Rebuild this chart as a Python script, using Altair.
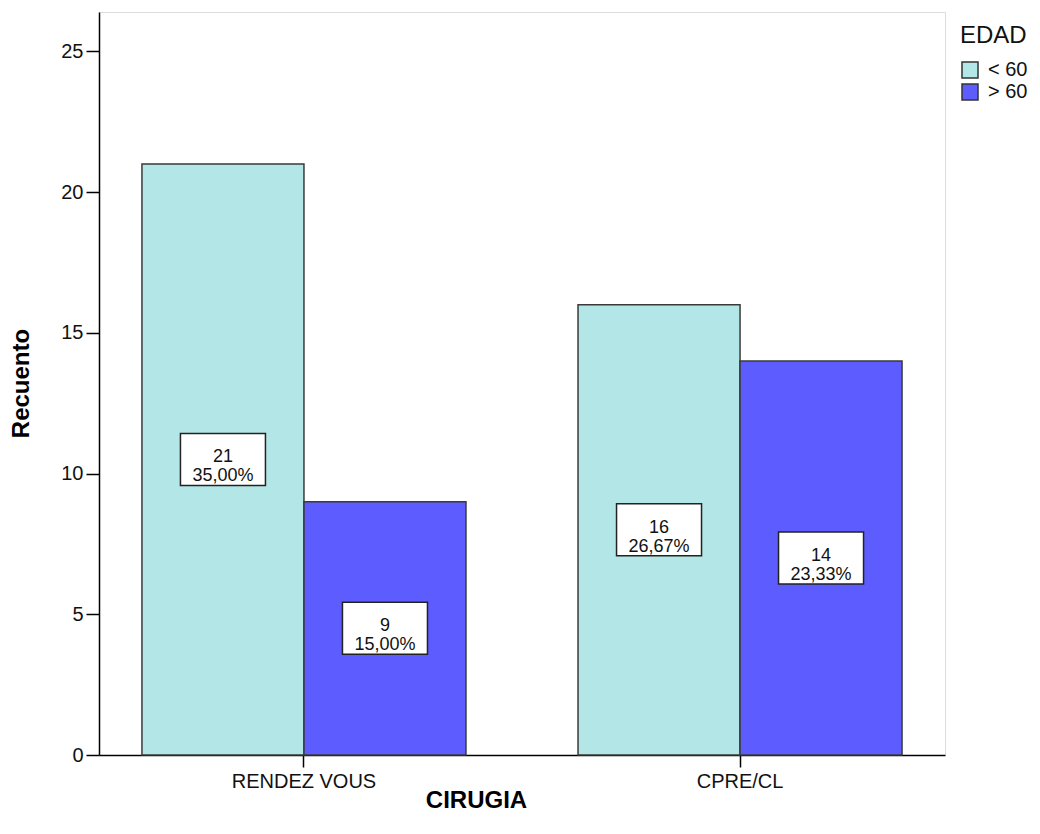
import altair as alt
import pandas as pd

# ---- data ----
cirugia = ["RENDEZ VOUS", "RENDEZ VOUS", "CPRE/CL", "CPRE/CL"]
edad = ["< 60", "> 60", "< 60", "> 60"]
recuento = [21, 9, 16, 14]
porcentaje = ["35,00%", "15,00%", "26,67%", "23,33%"]

cirugia_orden = ["RENDEZ VOUS", "CPRE/CL"]
edad_orden = ["< 60", "> 60"]
colores = ["#b3e6e6", "#5c5cff"]
y_ticks = [0, 5, 10, 15, 20, 25]

df = pd.DataFrame({
    "CIRUGIA": cirugia,
    "EDAD": edad,
    "Recuento": recuento,
    "Porcentaje": porcentaje,
})

FONT = "Liberation Sans"

x_enc = alt.X(
    "CIRUGIA:N",
    sort=cirugia_orden,
    scale=alt.Scale(paddingInner=0.257, paddingOuter=0.0985),
    axis=alt.Axis(
        title="CIRUGIA", labelAngle=0, labelFontSize=20, labelColor="#111",
        labelFont=FONT, labelPadding=4, tickSize=12, tickColor="#000",
        tickWidth=1.5, domainColor="#000", domainWidth=1.5,
        titleFont=FONT, titleFontSize=24, titleFontWeight="bold",
        titleColor="#000", titleX=377, titleY=33,
    ),
)
xoff_enc = alt.XOffset(
    "EDAD:N", sort=edad_orden, scale=alt.Scale(paddingInner=0, paddingOuter=0)
)
y_scale = alt.Scale(domain=[0, 26.4], nice=False)

bars = alt.Chart(df).mark_bar(stroke="#3a3a3a", strokeWidth=1.5).encode(
    x=x_enc,
    xOffset=xoff_enc,
    y=alt.Y(
        "Recuento:Q",
        scale=y_scale,
        axis=alt.Axis(
            title="Recuento", values=y_ticks, grid=False, labelFontSize=20,
            labelColor="#111", labelFont=FONT, labelPadding=3, tickSize=13,
            tickColor="#000", tickWidth=1.5, domainColor="#000", domainWidth=1.5,
            titleFont=FONT, titleFontSize=24, titleFontWeight="bold",
            titleColor="#000", titleX=-66, titleY=371,
        ),
    ),
    color=alt.Color(
        "EDAD:N",
        sort=edad_orden,
        scale=alt.Scale(domain=edad_orden, range=colores),
        legend=alt.Legend(
            title="EDAD", orient="none", legendX=861, legendY=12,
            titleFont=FONT, titleFontSize=24, titleFontWeight="normal",
            titleColor="#111", titlePadding=12,
            labelFont=FONT, labelFontSize=20, labelColor="#111", labelOffset=8,
            symbolType="square", symbolSize=256, symbolStrokeColor="#333",
            symbolStrokeWidth=1.5, rowPadding=0,
        ),
    ),
)

base = alt.Chart(df).transform_calculate(
    mitad="datum.Recuento / 2",
    etiqueta="toString(datum.Recuento) + '\\n' + datum.Porcentaje",
)

boxes = base.mark_point(
    shape="M-1,-0.612L1,-0.612L1,0.612L-1,0.612Z",
    size=7225, filled=True, fill="white", stroke="#222", strokeWidth=1.5,
    opacity=1,
).encode(
    x=alt.X("CIRUGIA:N", sort=cirugia_orden),
    xOffset=alt.XOffset("EDAD:N", sort=edad_orden),
    y=alt.Y("mitad:Q", scale=y_scale),
)

labels = base.mark_text(
    lineBreak="\n", font=FONT, fontSize=18, lineHeight=19,
    align="center", baseline="middle", color="#111", dy=-2,
).encode(
    x=alt.X("CIRUGIA:N", sort=cirugia_orden),
    xOffset=alt.XOffset("EDAD:N", sort=edad_orden),
    y=alt.Y("mitad:Q", scale=y_scale),
    text="etiqueta:N",
)

chart = alt.layer(bars, boxes, labels).properties(
    width=846,
    height=743,
    autosize=alt.AutoSizeParams(type="none"),
    padding={"left": 91, "top": 4, "right": 87, "bottom": 60},
).configure_view(
    fill="#f0f0f0", stroke="#8c8c8c", strokeWidth=2
).configure(background="white")

chart.save("out.html", embed_options={"renderer": "svg", "actions": False})
